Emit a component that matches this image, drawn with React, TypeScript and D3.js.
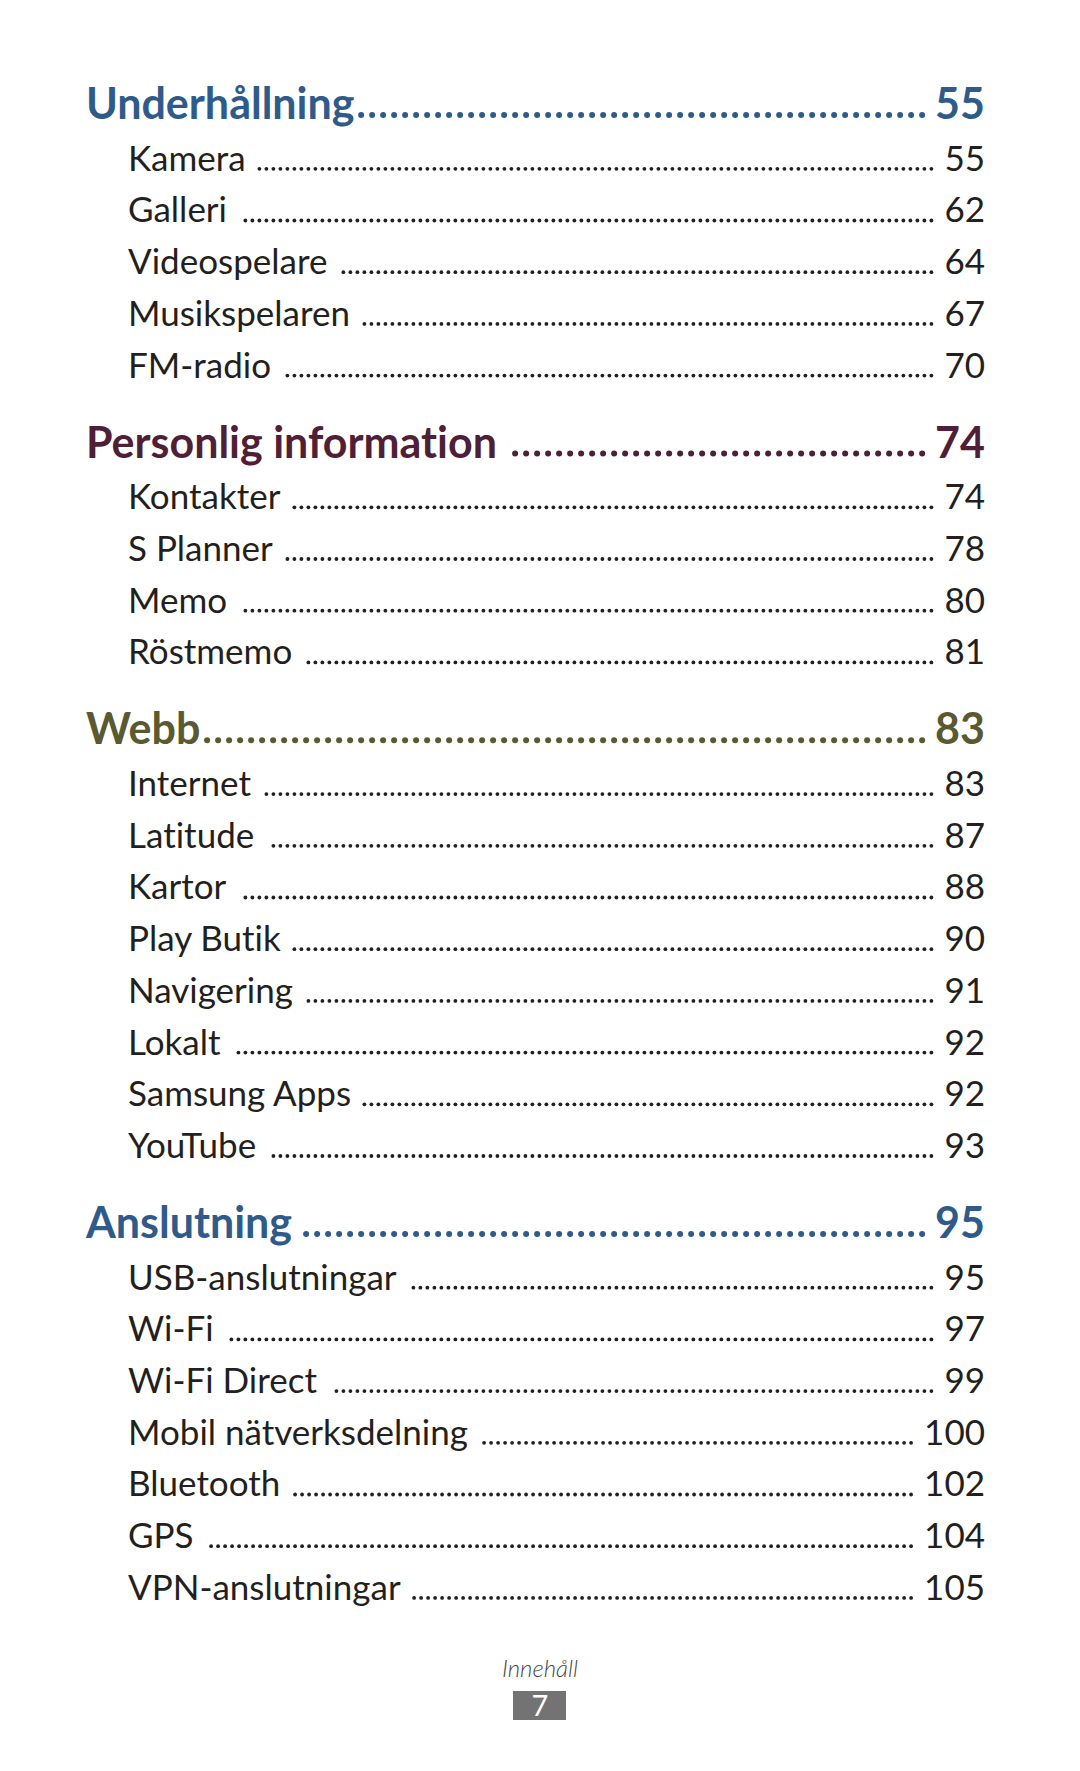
import React, { useEffect, useRef } from "react";
import * as d3 from "d3";

// ---- data ----
const sectionTitles = ["Underhållning", "Personlig information", "Webb", "Anslutning"];
const sectionPages = [55, 74, 83, 95];

const underhallningItems = ["Kamera", "Galleri", "Videospelare", "Musikspelaren", "FM-radio"];
const underhallningPages = [55, 62, 64, 67, 70];

const personligItems = ["Kontakter", "S Planner", "Memo", "Röstmemo"];
const personligPages = [74, 78, 80, 81];

const webbItems = ["Internet", "Latitude", "Kartor", "Play Butik", "Navigering", "Lokalt", "Samsung Apps", "YouTube"];
const webbPages = [83, 87, 88, 90, 91, 92, 92, 93];

const anslutningItems = ["USB-anslutningar", "Wi-Fi", "Wi-Fi Direct", "Mobil nätverksdelning", "Bluetooth", "GPS", "VPN-anslutningar"];
const anslutningPages = [95, 97, 99, 100, 102, 104, 105];

const footerLabel = "Innehåll";
const footerPage = "7";

// ---- styles ----
const sectionColors = ["#2f5b8b", "#4f1f37", "#5b592f", "#2f5b8b"];
const textColor = "#231f20";
const W = 1080;
const H = 1771;

export default function App() {
  const ref = useRef<SVGSVGElement>(null);

  useEffect(() => {
    const draw = () => {
      const svg = d3.select(ref.current);
      svg.selectAll("*").remove();

      const sections = sectionTitles.map((t, i) => ({
        title: t,
        page: sectionPages[i],
        color: sectionColors[i],
        items: [underhallningItems, personligItems, webbItems, anslutningItems][i].map((name, j) => ({
          name,
          page: [underhallningPages, personligPages, webbPages, anslutningPages][i][j],
        })),
      }));

      const rowStep = 51.7;
      const sectionGap = 80;
      let y = 119;
      const rows: any[] = [];
      sections.forEach((s) => {
        rows.push({ type: "h", y, text: s.title, page: s.page, color: s.color });
        s.items.forEach((it) => {
          y += rowStep;
          rows.push({ type: "i", y, text: it.name, page: it.page, color: textColor });
        });
        y += sectionGap;
      });

      const xHead = 86;
      const xItem = 128;
      const xRight = 985;
      const noLig = "font-variant-ligatures: none; font-feature-settings: 'liga' 0, 'clig' 0;";

      const g = svg.append("g");
      rows.forEach((r) => {
        const isH = r.type === "h";
        const fs = isH ? 43 : 35;
        const fw = isH ? 700 : 400;
        const t = g
          .append("text")
          .attr("x", isH ? xHead : xItem)
          .attr("y", r.y)
          .attr("font-family", "Lato")
          .attr("font-size", fs)
          .attr("font-weight", fw)
          .attr("style", noLig)
          .attr("fill", r.color)
          .text(r.text);
        const num = g
          .append("text")
          .attr("x", xRight)
          .attr("y", r.y)
          .attr("text-anchor", "end")
          .attr("font-family", "Lato")
          .attr("font-size", fs)
          .attr("font-weight", fw)
          .attr("style", noLig)
          .attr("fill", r.color)
          .text(String(r.page));
        const tEnd = (isH ? xHead : xItem) + (t.node() as SVGTextElement).getComputedTextLength();
        const nW = (num.node() as SVGTextElement).getComputedTextLength();
        const spacing = isH ? 11 : 7;
        const rad = isH ? 3 : 1.9;
        const endX = xRight - nW - (isH ? 13 : 13);
        const extra = r.text.includes(" ") && isH ? 10 : 0;
        const startX = tEnd + (isH ? 4 + extra : 13);
        const n = Math.floor((endX - startX) / spacing) + 1;
        const xs = d3.range(n).map((k) => endX - k * spacing);
        g.selectAll(null)
          .data(xs)
          .enter()
          .append("circle")
          .attr("cx", (d) => d)
          .attr("cy", r.y - (isH ? 4 : 1.9))
          .attr("r", rad)
          .attr("fill", r.color);
      });

      // footer
      svg
        .append("text")
        .attr("x", W / 2)
        .attr("y", 1677)
        .attr("text-anchor", "middle")
        .attr("font-family", "Lato")
        .attr("font-style", "italic")
        .attr("font-weight", 300)
        .attr("font-size", 24)
        .attr("fill", "#4a4a4a")
        .text(footerLabel);
      svg
        .append("rect")
        .attr("x", 513)
        .attr("y", 1691)
        .attr("width", 53)
        .attr("height", 29)
        .attr("fill", "#737373");
      svg
        .append("text")
        .attr("x", W / 2)
        .attr("y", 1716)
        .attr("text-anchor", "middle")
        .attr("font-family", "Lato")
        .attr("font-weight", 400)
        .attr("font-size", 29)
        .attr("fill", "#ffffff")
        .text(footerPage);
    };
    draw();
    if ((document as any).fonts && (document as any).fonts.ready) {
      (document as any).fonts.ready.then(draw);
    }
  }, []);

  return (
    <svg
      ref={ref}
      width={W}
      height={H}
      style={{ position: "absolute", left: 0, top: 0, background: "#ffffff", display: "block" }}
    />
  );
}
